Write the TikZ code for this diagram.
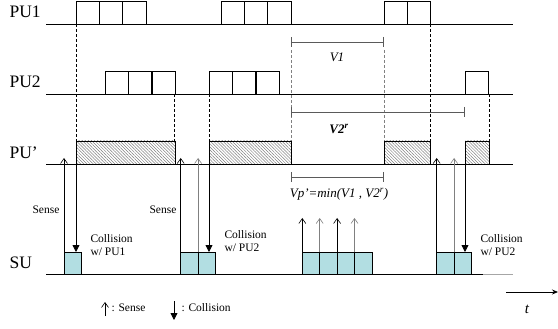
\documentclass[tikz,border=0pt]{standalone}
\usepackage{fontspec}
\setmainfont{Liberation Serif}
\usetikzlibrary{arrows.meta, patterns.meta}
\definecolor{sucyan}{RGB}{178, 222, 226}
\definecolor{spangray}{RGB}{90, 90, 90}

\begin{document}
\begin{tikzpicture}[
    x=1pt, y=-1pt,
    >=Stealth,
    slot/.style={draw, line width=0.8pt},
    hatched/.style={draw, line width=0.8pt,
        pattern={Lines[angle=-45, distance=2.2pt, line width=0.5pt]}, pattern color=gray},
    suslot/.style={draw, line width=0.8pt, fill=sucyan},
    sense/.style={-{Straight Barb[length=5pt, width=7pt]}, line width=0.6pt},
    collide/.style={-{Triangle[length=7pt, width=7pt]}, line width=0.8pt},
    guide/.style={dash pattern=on 3pt off 2pt, line width=0.6pt},
    span/.style={{Bar[width=10pt]}-{Bar[width=10pt]}, line width=0.9pt, spangray},
    axis/.style={line width=0.9pt},
    rowlabel/.style={anchor=west, font=\fontsize{17.5}{20}\selectfont},
    note/.style={anchor=west, align=left, font=\fontsize{11.5}{13}\selectfont}
]
\useasboundingbox (0,0) rectangle (558,329);

% === Rows ===
\node[rowlabel] (pu1) at (6,12) {PU1};
\node[rowlabel] (pu2) at (6,82) {PU2};
\node[rowlabel] (pup) at (6,153) {PU'};
\node[rowlabel] (su) at (6,263) {SU};

\draw[axis] (46,24) -- (513,24);
\draw[axis] (46,94) -- (513,94);
\draw[axis] (46,164) -- (513,164);
\draw[axis] (46,274) -- (483,274);
\draw[axis, gray!70] (483,274) -- (513,274);

% Slots of PU1 and PU2
\foreach \s/\n in {76/3, 221/3, 384/2}
    \foreach \i in {1,...,\n}
        \draw[slot] ({\s+(\i-1)*23.3},1) rectangle ++(23.3,23);
\foreach \s/\n in {105/3, 209/3, 465/1}
    \foreach \i in {1,...,\n}
        \draw[slot] ({\s+(\i-1)*23.3},71) rectangle ++(23.6,23);

% Busy periods seen as PU'
\draw[hatched] (76,141) rectangle (175,164);
\draw[hatched] (209,141) rectangle (291,164);
\draw[hatched] (384,141) rectangle (430.7,164);
\draw[hatched] (465,141) rectangle (489,164);

% Guides
\draw[guide] (76,24) -- (76,141);
\draw[guide] (430.7,24) -- (430.7,141);
\foreach \x in {174.7, 209, 489}
    \draw[guide] (\x,94) -- (\x,141);
\foreach \x in {291, 384}
    \draw[guide, gray] (\x,50) -- (\x,141);

% Spans
\draw[span] (291,42) -- (384,42);
\node[font=\fontsize{13}{15}\selectfont\itshape] (v1) at (337,57) {V1};
\draw[span] (291,112) -- (465,112);
\node[font=\fontsize{13}{15}\selectfont\bfseries\itshape] (v2) at (339,129) {V2\textsuperscript{r}};
\draw[span] (291,177) -- (384,177);
\node[font=\fontsize{13}{15}\selectfont\itshape] (vp) at (339,194) {Vp'=min(V1 , V2\textsuperscript{r})};

% SU slots
\foreach \s/\n in {64/1, 180.7/2, 302.3/4, 436.7/2}
    \foreach \i in {1,...,\n}
        \draw[suslot] ({\s+(\i-1)*17.4},252) rectangle ++(17.4,22);

% Sensing
\draw[sense] (64,252) -- (64,158);
\draw[sense] (180.7,252) -- (180.7,158);
\draw[sense, gray] (198.1,252) -- (198.1,158);
\draw[sense] (436.7,252) -- (436.7,158);
\draw[sense, gray] (454.1,252) -- (454.1,158);
\foreach \x/\c in {302.3/black, 319.7/gray, 337.1/black, 354.5/gray}
    \draw[sense, \c] (\x,252) -- (\x,218);

% Collisions
\foreach \x in {76, 209, 465}
    \draw[collide] (\x,164) -- (\x,252);

\node[note] (s1) at (29,210) {Sense};
\node[note] (s2) at (146,210) {Sense};
\node[note] (c1) at (87,245) {Collision\\w/ PU1};
\node[note] (c2) at (221,241) {Collision\\w/ PU2};
\node[note] (c3) at (477,245) {Collision\\w/ PU2};

% === Legend ===
\draw[sense] (105,316) -- (105,302);
\node[note] (ls) at (108,308) {: Sense};
\draw[collide] (174,301) -- (174,320);
\node[note] (lc) at (178,308) {: Collision};

% Time axis
\draw[-{Stealth[length=6pt, width=5pt]}, line width=0.8pt] (506,292) -- (558,292);
\node[font=\fontsize{15}{17}\selectfont\itshape] (t) at (527,309) {t};

\end{tikzpicture}
\end{document}
